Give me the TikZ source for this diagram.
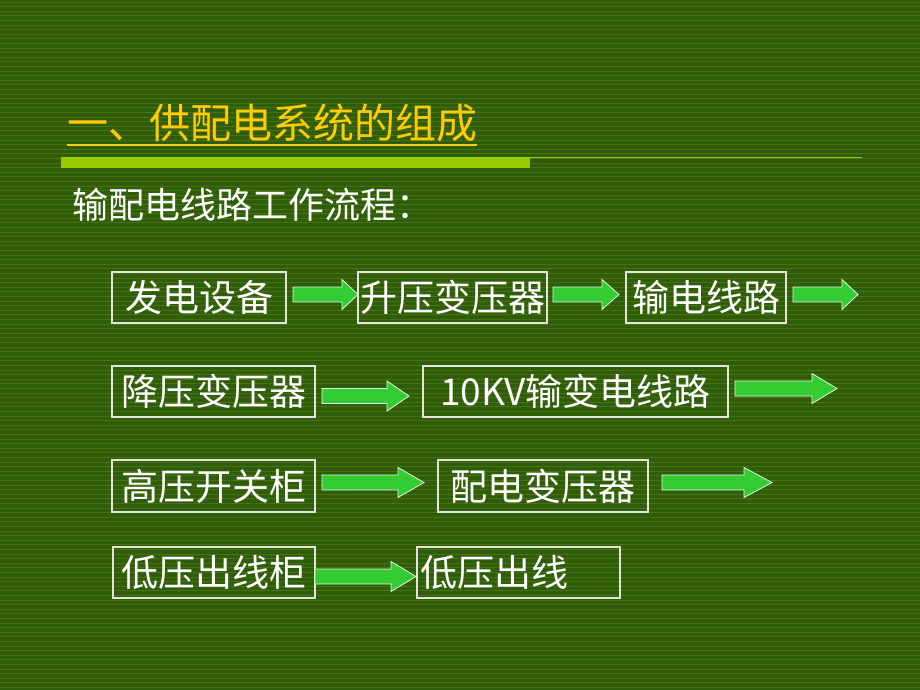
\documentclass[tikz,border=0pt]{standalone}
\usepackage{fontspec}
\usepackage{xcolor}
\usepackage{tikz}
\usetikzlibrary{calc}
\newfontfamily\cjk{Noto Sans CJK SC}
\definecolor{bg}{RGB}{46,94,12}
\definecolor{bgline}{RGB}{76,112,10}
\definecolor{titlecol}{RGB}{255,204,0}
\definecolor{barcol}{RGB}{153,204,0}
\definecolor{flowfill}{RGB}{51,204,51}
\definecolor{boxline}{RGB}{228,228,218}
\newcommand\garrow[3]{%
  \draw[flow] ($(#1)+(0,-7.5)$) -- ($(#2)+(-#3,-7.5)$) -- ($(#2)+(-#3,-15)$)
    -- (#2) -- ($(#2)+(-#3,15)$) -- ($(#2)+(-#3,7.5)$) -- ($(#1)+(0,7.5)$) -- cycle;}

\begin{document}
\begin{tikzpicture}[x=1pt, y=-1pt,
    stage/.style={draw=boxline, line width=1.1pt, inner sep=0pt, minimum height=51,
      text=white, font=\cjk\fontsize{37}{44}\selectfont},
    flow/.style={fill=flowfill, draw=white!85!flowfill, line width=0.8pt, line join=miter}]
    \useasboundingbox (0,0) rectangle (920,690);
    \fill[bg] (0,0) rectangle (920,690);
    \foreach \k in {0,...,149}
      \draw[bgline, line width=0.9pt] (0,2+4.6*\k) -- (920,2+4.6*\k);

    % heading
    \node[anchor=base west, inner sep=0pt, text=titlecol,
      font=\cjk\fontsize{41}{48}\selectfont] (Title) at (67,139) {一、供配电系统的组成};
    \draw[titlecol, line width=2.5pt] ($(Title.base west)+(0,6)$) -- ($(Title.base east)+(0,6)$);
    \fill[barcol] (61,157) rectangle (530,168);
    \coordinate (Barl) at (530,157.5);
    \coordinate (Barr) at (862,157.5);
    \draw[barcol, line width=1.5pt] (Barl) -- (Barr);
    \node[anchor=base west, inner sep=0pt, text=white,
      font=\cjk\fontsize{36}{44}\selectfont] (Sub) at (72,218) {输配电线路工作流程：};

    % stages
    \node[stage, minimum width=174] (Fadian) at (199,297.5) {发电设备};
    \node[stage, minimum width=189] (Shengya) at (452.5,297.5) {升压变压器};
    \node[stage, minimum width=160] (Shudian) at (706,297.5) {输电线路};

    \node[stage, minimum width=203] (Jiangya) at (213.5,391.5) {降压变压器};
    \node[stage, minimum width=305] (Kvline) at (575.5,391.5) {10KV输变电线路};

    \node[stage, minimum width=203, minimum height=52] (Gaoya) at (213.5,486) {高压开关柜};
    \node[stage, minimum width=210, minimum height=52] (Peidian) at (543,486) {配电变压器};

    \node[stage, minimum width=202] (Diyagui) at (214,572.5) {低压出线柜};
    \node[stage, minimum width=203, text width=197, align=left] (Diya) at (518.5,572.5) {低压出线};

    % arrow ends
    \coordinate (Fadianr) at (293,294.5);
    \coordinate (Shengyal) at (358,294.5);
    \coordinate (Shengyar) at (553,294.5);
    \coordinate (Shudianl) at (619,294.5);
    \coordinate (Shudianr) at (793,294.5);
    \coordinate (Shudiann) at (858,294.5);

    \coordinate (Jiangyar) at (322,396);
    \coordinate (Kvlinel) at (409,396);
    \coordinate (Kvliner) at (735,388.5);
    \coordinate (Kvlinen) at (837,388.5);

    \coordinate (Gaoyar) at (322,482.5);
    \coordinate (Peidianl) at (424,482.5);
    \coordinate (Peidianr) at (662,482.5);
    \coordinate (Peidiann) at (772,482.5);

    \coordinate (Diyaguir) at (315,576.5);
    \coordinate (Diyal) at (416,576.5);

    \garrow{Fadianr}{Shengyal}{16}
    \garrow{Shengyar}{Shudianl}{17}
    \garrow{Shudianr}{Shudiann}{16}
    \garrow{Jiangyar}{Kvlinel}{22}
    \garrow{Kvliner}{Kvlinen}{25}
    \garrow{Gaoyar}{Peidianl}{26}
    \garrow{Peidianr}{Peidiann}{28}
    \garrow{Diyaguir}{Diyal}{25}
\end{tikzpicture}
\end{document}
